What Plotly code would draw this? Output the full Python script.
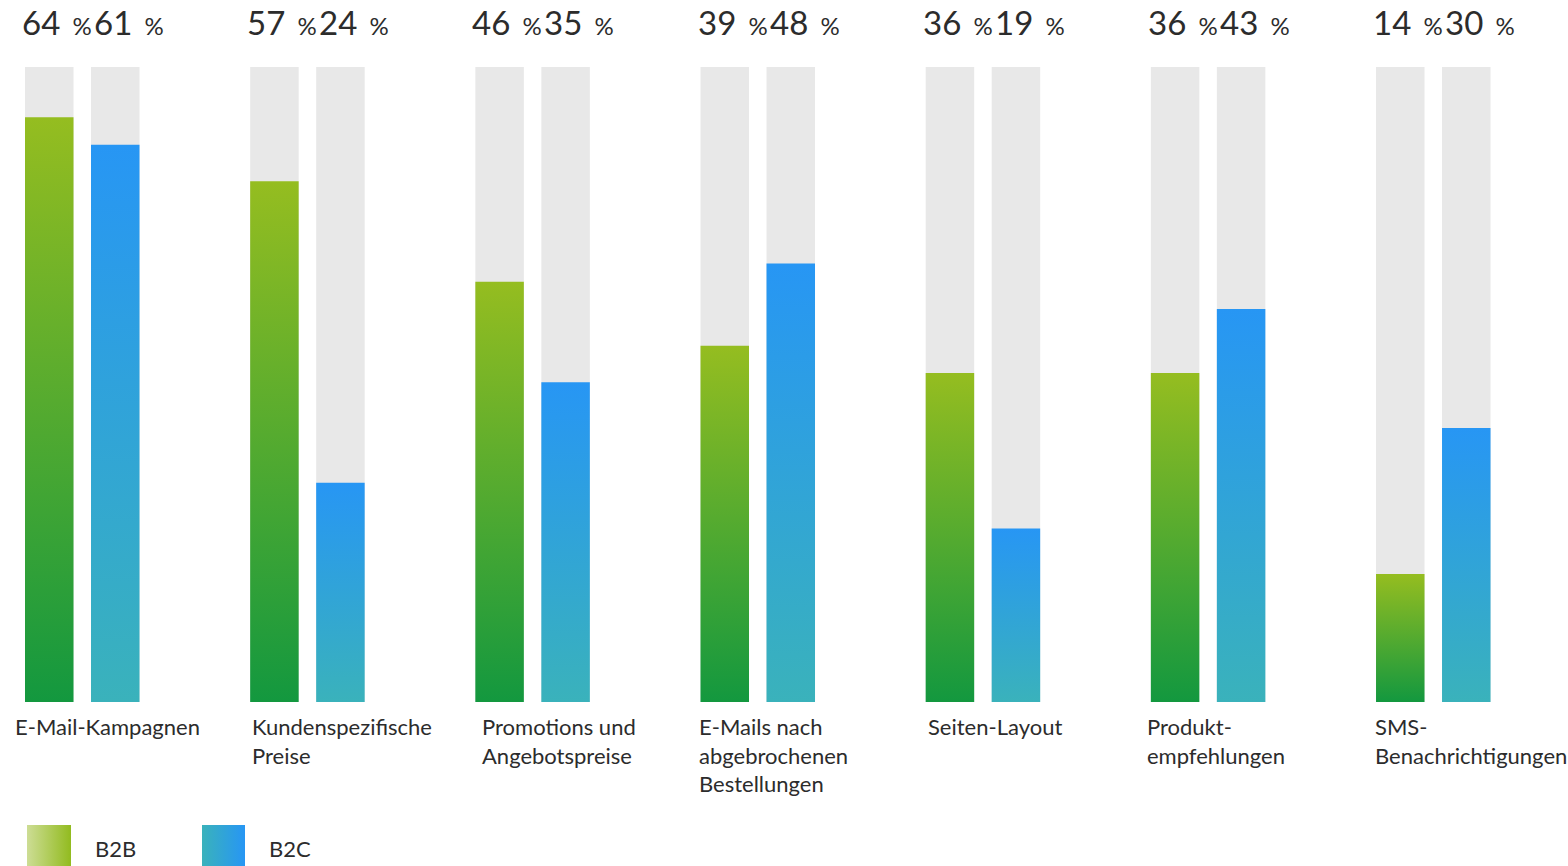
import plotly.graph_objects as go

categories = ["E-Mail-Kampagnen", "Kundenspezifische<br>Preise", "Promotions und<br>Angebotspreise",
              "E-Mails nach<br>abgebrochenen<br>Bestellungen", "Seiten-Layout",
              "Produkt-<br>empfehlungen", "SMS-<br>Benachrichtigungen"]
b2b = [64, 57, 46, 39, 36, 36, 14]
b2c = [61, 24, 35, 48, 19, 43, 30]
series_names = ["B2B", "B2C"]
scale_max = 69.5

W, H = 1568, 866
PITCH = 225.17          # px per category
C0 = 82.25              # px of first category center
BAR_W = 48.5 / PITCH
OFF = 33.0 / PITCH
Y0_PX, YTOP_PX = 702, 67
PXU = (Y0_PX - YTOP_PX) / scale_max
LABEL_LEFT_PX = [16, 253, 483, 700, 929, 1148, 1376]

x_range = [(0 - C0) / PITCH, (W - C0) / PITCH]
y_range = [(Y0_PX - H) / PXU, scale_max + YTOP_PX / PXU]

green = [[0, "#13983f"], [1, "#95bd20"]]
blue = [[0, "#3ab2bb"], [1, "#2796f4"]]
green_leg = [[0, "#cddd95"], [1, "#92bb1f"]]

TXT = "#2c2c2c"
FONT = "Lato"

fig = go.Figure()

xs_b2b = [i - OFF for i in range(len(categories))]
xs_b2c = [i + OFF for i in range(len(categories))]

# grey background bars
fig.add_trace(go.Bar(x=xs_b2b + xs_b2c, y=[scale_max] * (2 * len(categories)),
                     width=BAR_W, marker=dict(color="#e8e8e8", line=dict(width=0)),
                     hoverinfo="skip", showlegend=False))

def grad_bar(xc, v, cs):
    x0, x1 = xc - BAR_W / 2, xc + BAR_W / 2
    fig.add_trace(go.Scatter(x=[x0, x1, x1, x0, x0], y=[0, 0, v, v, 0], mode="lines",
                             fill="toself", line=dict(width=0, color="rgba(0,0,0,0)"),
                             fillgradient=dict(type="vertical", colorscale=cs),
                             hoverinfo="skip", showlegend=False))

for i in range(len(categories)):
    grad_bar(xs_b2b[i], b2b[i], green)
    grad_bar(xs_b2c[i], b2c[i], blue)

ann = []
def val_label(xc, v, shift):
    ann.append(dict(x=xc - BAR_W / 2, y=1 - 22 / H, xref="x", yref="paper",
                    xanchor="left", yanchor="middle", xshift=shift, showarrow=False,
                    text=f"{v}<span style='font-size:24px'>&nbsp;&nbsp;%</span>",
                    font=dict(family=FONT, size=33, color=TXT), align="left"))

for i in range(len(categories)):
    val_label(xs_b2b[i], b2b[i], -5)
    val_label(xs_b2c[i], b2c[i], 1)
    ann.append(dict(x=(LABEL_LEFT_PX[i] - C0) / PITCH, y=1 - 711 / H, xref="x", yref="paper",
                    xanchor="left", yanchor="top", xshift=-3, showarrow=False,
                    text=categories[i], align="left",
                    font=dict(family=FONT, size=22, color=TXT)))

# legend swatches (horizontal gradients)
leg_px = [(27, 71), (202, 245)]
leg_cs = [green_leg, blue]
for (l, r), cs, name in zip(leg_px, leg_cs, series_names):
    xl, xr = (l - C0) / PITCH, (r - C0) / PITCH
    yb, yt = (Y0_PX - H) / PXU, (Y0_PX - 825) / PXU
    fig.add_trace(go.Scatter(x=[xl, xr, xr, xl, xl], y=[yb, yb, yt, yt, yb], mode="lines",
                             fill="toself", line=dict(width=0, color="rgba(0,0,0,0)"),
                             fillgradient=dict(type="horizontal", colorscale=cs),
                             hoverinfo="skip", showlegend=False))
    ann.append(dict(x=(r + 22 - C0) / PITCH, y=1 - 848 / H, xref="x", yref="paper",
                    xanchor="left", yanchor="middle", showarrow=False, text=name,
                    font=dict(family=FONT, size=22, color=TXT)))

fig.update_layout(
    width=W, height=H, margin=dict(l=0, r=0, t=0, b=0),
    paper_bgcolor="white", plot_bgcolor="white", showlegend=False,
    xaxis=dict(range=x_range, visible=False, fixedrange=True),
    yaxis=dict(range=y_range, visible=False, fixedrange=True),
    annotations=ann, barmode="overlay",
)
fig.write_html("out.html")
